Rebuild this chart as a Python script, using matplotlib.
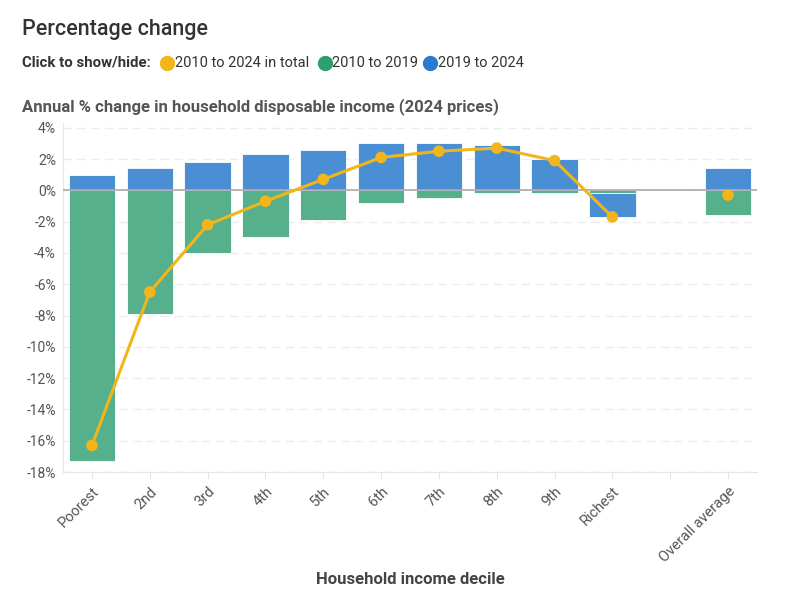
import numpy as np
import matplotlib.pyplot as plt
from matplotlib.lines import Line2D

plt.rcParams['font.family'] = ['Roboto', 'DejaVu Sans']

# Data
deciles = ['Poorest', '2nd', '3rd', '4th', '5th', '6th', '7th', '8th', '9th', 'Richest', '', 'Overall average']
change_2010_2019 = [-17.3, -7.9, -4.0, -3.0, -1.9, -0.8, -0.5, -0.2, -0.2, -0.2, np.nan, -1.6]
change_2019_2024 = [1.0, 1.4, 1.8, 2.3, 2.6, 3.0, 3.0, 2.9, 2.0, -1.5, np.nan, 1.4]
change_total = [-16.3, -6.5, -2.2, -0.7, 0.7, 2.1, 2.5, 2.7, 1.9, -1.7, np.nan, -0.3]
y_ticks = [-18, -16, -14, -12, -10, -8, -6, -4, -2, 0, 2, 4]

col_total = '#f2b51b'
col_green = '#2e9e6e'
col_blue = '#2a7bd0'
bar_green = '#56b08b'
bar_blue = '#4a8fd3'

fig = plt.figure(figsize=(8.01, 6.10), dpi=100)
ax = fig.add_axes([0.0787, 0.2262, 0.8663, 0.5721])

x = np.arange(len(deciles))
green = np.array(change_2010_2019)
blue = np.array(change_2019_2024)

# stacking: positives from 0, negatives stack below green
blue_bottom = np.where(blue < 0, np.minimum(green, 0), 0)
ax.bar(x, green, width=0.8, color=bar_green, edgecolor='#ffffff', linewidth=0.6, zorder=2)
ax.bar(x, blue, bottom=blue_bottom, width=0.8, color=bar_blue, edgecolor='#ffffff', linewidth=0.6, zorder=2)

ax.axhline(0, color='#aaaaaa', linewidth=1.2, zorder=3)

# total line (break across the empty slot)
tot = np.array(change_total)
ax.plot(x[:10], tot[:10], color=col_total, linewidth=2.2, zorder=4)
ax.scatter(x[~np.isnan(tot)], tot[~np.isnan(tot)], s=70, color=col_total, zorder=5, edgecolor='none')

ax.set_xlim(-0.5, len(deciles) - 0.5)
ax.set_ylim(-18, 4.3)
ax.set_yticks(y_ticks)
ax.set_yticklabels([f'{v}%' for v in y_ticks], fontsize=10, color='#555555')
ax.yaxis.grid(True, color='#ececec', linestyle=(0, (6, 4)), linewidth=1, zorder=0)
ax.set_axisbelow(True)
ax.tick_params(axis='y', length=0, pad=5)

ax.set_xticks(x)
ax.set_xticklabels(deciles, rotation=45, ha='right', rotation_mode='anchor', fontsize=10.5, color='#555555')
ax.tick_params(axis='x', length=5, color='#e6e6e6', pad=4)

for side in ['top', 'right']:
    ax.spines[side].set_visible(False)
ax.spines['left'].set_color('#e6e6e6')
ax.spines['bottom'].set_color('#e6e6e6')

ax.set_xlabel('Household income decile', fontsize=12, fontweight='bold', color='#444444', labelpad=5)

# titles
fig.text(0.027, 0.951, 'Percentage change', fontsize=15.5, fontweight='medium', color='#333333', va='center')
fig.text(0.027, 0.826, 'Annual % change in household disposable income (2024 prices)',
         fontsize=12, fontweight='bold', color='#555555', va='center')

# legend row
ly = 0.897
fig.text(0.027, ly, 'Click to show/hide:', fontsize=10.8, fontweight='bold', color='#333333', va='center')
legend_items = [(0.2085, col_total, '2010 to 2024 in total'),
                (0.4055, col_green, '2010 to 2019'),
                (0.5370, col_blue, '2019 to 2024')]
for lx, c, label in legend_items:
    fig.add_artist(Line2D([lx], [ly], marker='o', markersize=10, color=c, linestyle='none',
                          transform=fig.transFigure))
    fig.text(lx + 0.0095, ly, label, fontsize=10.5, color='#333333', va='center')

fig.savefig('out.png', dpi=100)
